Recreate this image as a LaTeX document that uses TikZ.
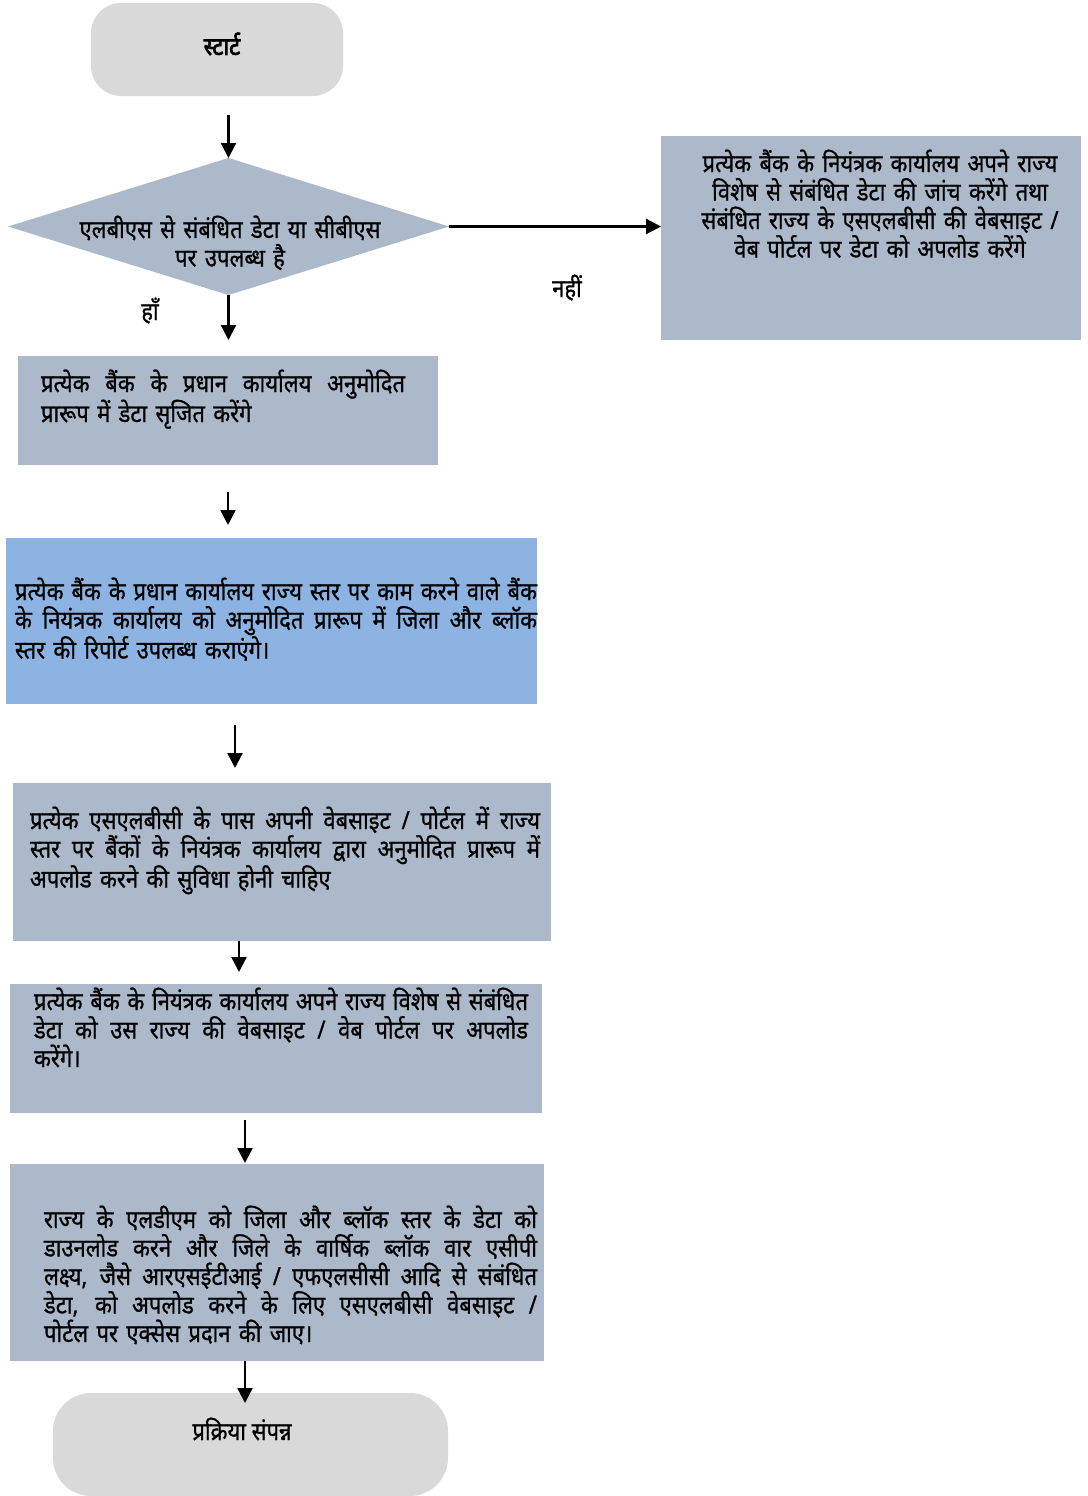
\documentclass[tikz,border=0pt]{standalone}
\usepackage{fontspec}
\setmainfont{Noto Sans}[Script=Devanagari, FakeStretch=0.88, FakeBold=0.9]
\newfontfamily\startfont{Noto Sans}[Script=Devanagari, FakeStretch=0.88, FakeBold=3]
\usetikzlibrary{arrows.meta,shapes.geometric}
\definecolor{termgrey}{HTML}{D9D9D9}
\definecolor{boxgrey}{HTML}{ACB9CA}
\definecolor{boxblue}{HTML}{8DB3E2}
\hyphenpenalty=10000\relax
\newcommand\bodyfont{\fontsize{25}{28.5}\selectfont}
\newcommand\JL[2][\hsize]{\makebox[#1][s]{\spaceskip=0.25em plus 1fil\relax#2}}
\begin{document}
\begin{tikzpicture}[x=1pt,y=-1pt,
  every node/.style={inner sep=0pt,outer sep=0pt},
  txt/.style={font=\bodyfont, text=black},
  term/.style={fill=termgrey, draw=none},
  gbox/.style={fill=boxgrey, draw=none},
  bbox/.style={fill=boxblue, draw=none},
  arr/.style={line width=2.3pt, -{Triangle[length=15pt,width=15pt]}}
]
\useasboundingbox (0,0) rectangle (1087,1496);

% shapes
\node[term, rounded corners=30pt, minimum width=252pt, minimum height=93pt] (start) at (217,49.5) {};
\node[gbox, diamond, aspect=3.22, minimum width=441pt, minimum height=137pt] (dia) at (228.5,226.5) {};
\node[gbox, minimum width=420pt, minimum height=204pt] (rb) at (871,238) {};
\node[gbox, minimum width=420pt, minimum height=109pt] (b1) at (228,410.5) {};
\node[bbox, minimum width=531pt, minimum height=166pt] (b2) at (271.5,621) {};
\node[gbox, minimum width=538pt, minimum height=158pt] (b3) at (282,862) {};
\node[gbox, minimum width=532pt, minimum height=129pt] (b4) at (276,1048.5) {};
\node[gbox, minimum width=534pt, minimum height=197pt] (b5) at (277,1262.5) {};
\node[term, rounded corners=38pt, minimum width=395pt, minimum height=103pt] (end) at (250.5,1444.5) {};

% texts
\node[anchor=base, font={\startfont\fontsize{25}{28.5}\selectfont}] (tstart) at (222,55) {स्टार्ट};
\node[txt, anchor=base, text width=420pt, align=center] (tdia) at (230,238) {एलबीएस से संबंधित डेटा या सीबीएस\\पर उपलब्ध है};
\node[txt, anchor=base] (tyes) at (150,320) {हाँ};
\node[txt, anchor=base] (tno) at (567,297) {नहीं};
\node[txt, anchor=base, text width=410pt, align=center] (trb) at (880,172) {प्रत्येक बैंक के नियंत्रक कार्यालय अपने राज्य\\विशेष से संबंधित डेटा की जांच करेंगे तथा\\संबंधित राज्य के एसएलबीसी की वेबसाइट /\\वेब पोर्टल पर डेटा को अपलोड करेंगे};
\node[txt, anchor=base west, text width=364pt, align=left] (t1) at (41,392) {\JL{प्रत्येक बैंक के प्रधान कार्यालय अनुमोदित}\\प्रारूप में डेटा सृजित करेंगे};
\node[txt, anchor=base west, text width=522pt, align=left] (t2) at (15,600) {\JL{प्रत्येक बैंक के प्रधान कार्यालय राज्य स्तर पर काम करने वाले बैंक}\\\JL{के नियंत्रक कार्यालय को अनुमोदित प्रारूप में जिला और ब्लॉक}\\स्तर की रिपोर्ट उपलब्ध कराएंगे।};
\node[txt, anchor=base west, text width=510pt, align=left] (t3) at (30,829) {\JL{प्रत्येक एसएलबीसी के पास अपनी वेबसाइट / पोर्टल में राज्य}\\\JL{स्तर पर बैंकों के नियंत्रक कार्यालय द्वारा अनुमोदित प्रारूप में}\\अपलोड करने की सुविधा होनी चाहिए};
\node[txt, anchor=base west, text width=494pt, align=left] (t4) at (34,1010) {\JL{प्रत्येक बैंक के नियंत्रक कार्यालय अपने राज्य विशेष से संबंधित}\\\JL{डेटा को उस राज्य की वेबसाइट / वेब पोर्टल पर अपलोड}\\करेंगे।};
\node[txt, anchor=base west, text width=493pt, align=left] (t5) at (44,1228) {\JL{राज्य के एलडीएम को जिला और ब्लॉक स्तर के डेटा को}\\\JL{डाउनलोड करने और जिले के वार्षिक ब्लॉक वार एसीपी}\\\JL{लक्ष्य, जैसे आरएसईटीआई / एफएलसीसी आदि से संबंधित}\\\JL{डेटा, को अपलोड करने के लिए एसएलबीसी वेबसाइट /}\\पोर्टल पर एक्सेस प्रदान की जाए।};
\node[txt, anchor=base] (tend) at (242,1440) {प्रक्रिया संपन्न};

% connectors
\draw[arr, shorten <=19pt] (start.south -| dia.north) -- (dia.north);
\draw[arr, shorten >=16pt] (dia.south) -- (dia.south |- b1.north);
\draw[arr] (dia.east) -- (dia.east -| rb.west);
\draw[arr, shorten <=27pt, shorten >=13pt] (b1.south) -- (b1.south |- b2.north);
\draw[arr, shorten <=21pt, shorten >=15pt] ([xshift=-36.5pt]b2.south) -- ([xshift=-36.5pt]b2.south |- b3.north);
\draw[arr, shorten >=12pt] ([xshift=-43pt]b3.south) -- ([xshift=-43pt]b3.south |- b4.north);
\draw[arr, shorten <=7pt, shorten >=1pt] ([xshift=-31pt]b4.south) -- ([xshift=-31pt]b4.south |- b5.north);
\draw[arr, shorten >=-10pt] ([xshift=-32pt]b5.south) -- ([xshift=-32pt]b5.south |- end.north);
\end{tikzpicture}
\end{document}
